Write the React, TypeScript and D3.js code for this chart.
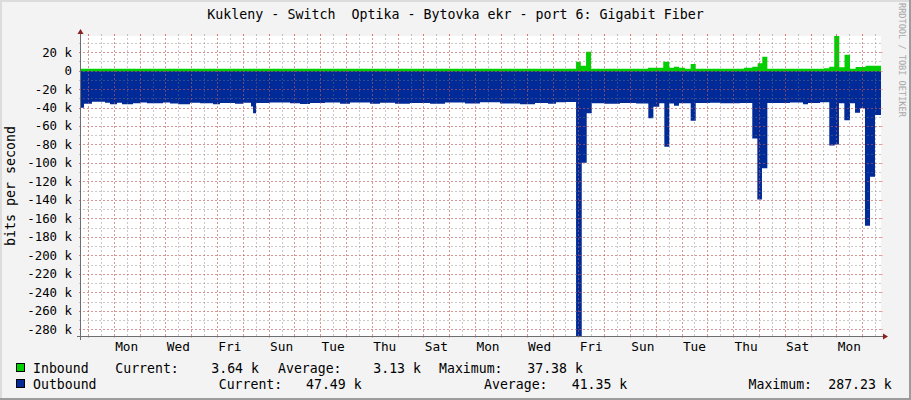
import React from "react";
import * as d3 from "d3";

const TITLE = "Kukleny - Switch  Optika - Bytovka ekr - port 6: Gigabit Fiber";
const Y_TITLE = "bits per second";
const WATERMARK = "RRDTOOL / TOBI OETIKER";

// 31-day period, starting 6.51 h before a Sunday midnight
const PERIOD_START = Date.UTC(2018, 3, 1, 0, 0, 0) - 23436 * 1000;
const PERIOD_HOURS = 744;

// Outbound (bits/s, thousands) step values: start hour -> value
const outHours = [
  0, 2.8, 10.2, 22.3, 27.0, 33.5, 38.1, 48.4, 54.9, 61.4, 76.3, 82.8, 90.2, 101.4, 110.7, 122.8,
  129.3, 143.2, 150.7, 158.1, 160.0, 162.8, 175.8, 194.4, 203.7, 213.0, 226.9, 240.9, 250.2,
  268.8, 278.1, 292.0, 306.0, 324.6, 338.5, 357.1, 371.1, 389.7, 408.3, 422.2, 434.3, 441.8,
  451.1, 460.4, 465.7, 470.3, 475.0, 486.4, 501.3, 516.2, 527.6, 532.3, 537.8, 542.5, 547.1,
  551.5, 556.1, 567.0, 571.7, 585.0, 594.3, 612.9, 624.3, 629.0, 633.3, 638.3, 659.4, 671.5,
  676.1, 687.3, 695.9, 700.9, 704.9, 709.9, 715.2, 719.8, 724.5, 729.1, 733.8, 738.4,
];
const outK = [
  40.2, 35.8, 33.7, 34.8, 36.6, 34.8, 36.6, 35.4, 34.5, 35.4, 34.6, 35.6, 36.6, 34.8, 35.4, 36.6,
  35.0, 35.8, 34.8, 39.0, 46.3, 35.2, 34.6, 35.4, 36.2, 35.0, 34.6, 35.8, 34.6,
  35.8, 34.8, 36.0, 35.0, 35.8, 34.6, 35.6, 34.4, 35.6, 36.4, 35.0, 35.8, 34.4,
  34.0, 287.23, 99.7, 46.3, 35.4, 36.0, 35.0, 35.6, 51.7, 39.1, 35.5, 82.4, 35.6,
  38.0, 35.5, 54.2, 35.2, 34.8, 35.5, 35.2, 73.4, 139.4, 105.8, 35.0, 34.6, 36.5,
  35.0, 34.4, 81.0, 79.9, 35.5, 53.9, 35.5, 45.6, 40.9, 167.9, 114.8, 48.1,
];

// Inbound (bits/s, thousands) step values
const inHours = [
  0, 460.4, 464.8, 469.7, 474.3, 527.3, 541.5, 547.1, 551.5, 556.1, 561.7, 567.0, 571.7,
  616.6, 624.3, 629.3, 633.6, 638.3, 691.0, 695.9, 700.5, 705.2, 710.1, 715.2, 720.4, 729.7,
];
const inK = [
  2.0, 9.6, 5.3, 20.4, 2.0, 3.1, 9.6, 3.1, 4.2, 3.1, 2.0, 7.1, 2.0,
  3.0, 4.2, 7.8, 15.0, 2.0, 2.6, 4.2, 37.38, 3.5, 17.0, 2.0, 3.8, 5.2,
];

const Y_MIN = -287230;
const Y_MAX = 37380;
const Y_MINOR_STEP = 10000;
const Y_MAJOR_STEP = 20000;

const SERIES_NAMES = ["Inbound", "Outbound"];
const SERIES_COLORS = ["#00CF00", "#002A97"];
const STAT_LABELS = ["Current:", "Average:", "Maximum:"];
const inboundStats = ["3.64 k", "3.13 k", "37.38 k"];
const outboundStats = ["47.49 k", "41.35 k", "287.23 k"];

const W = 911;
const H = 400;
const X0 = 81;
const X1 = 881;
const Y_TOP = 36;
const Y_BOT = 336;
const FONT = "'DejaVu Sans Mono', monospace";
const GRID = "rgba(120,120,120,0.40)";
const MGRID = "rgba(240,70,70,0.38)";
const DASH = "2,2";

export default function App() {
  const tStart = new Date(PERIOD_START);
  const tEnd = new Date(PERIOD_START + PERIOD_HOURS * 3600e3);
  const xs = d3.scaleUtc().domain([tStart, tEnd]).range([X0, X1]);
  const ys = d3.scaleLinear().domain([Y_MIN, Y_MAX]).range([Y_BOT, Y_TOP]);

  const toPts = (hours: number[], vals: number[]) => {
    const pts = hours.map((h, i) => ({ t: new Date(PERIOD_START + h * 3600e3), v: vals[i] * 1000 }));
    pts.push({ t: tEnd, v: vals[vals.length - 1] * 1000 });
    return pts;
  };
  const outPts = toPts(outHours, outK);
  const inPts = toPts(inHours, inK);

  const outArea = d3
    .area<{ t: Date; v: number }>()
    .x((d) => xs(d.t))
    .y0(ys(0))
    .y1((d) => ys(-d.v))
    .curve(d3.curveStepAfter);
  const inArea = d3
    .area<{ t: Date; v: number }>()
    .x((d) => xs(d.t))
    .y0(ys(0) + 0.8)
    .y1((d) => ys(d.v))
    .curve(d3.curveStepAfter);

  const minorY = d3.range(Math.ceil(Y_MIN / Y_MINOR_STEP) * Y_MINOR_STEP, Y_MAX, Y_MINOR_STEP);
  const majorY = d3.range(Math.ceil(Y_MIN / Y_MAJOR_STEP) * Y_MAJOR_STEP, Y_MAX, Y_MAJOR_STEP);
  const minorX = d3.utcHour.every(12)!.range(tStart, tEnd);
  const majorX = d3.utcDay.range(tStart, tEnd);
  const firstMonday = d3.utcMonday.ceil(tStart);
  const labelDays = majorX.filter(
    (d) => d >= firstMonday && d3.utcDay.count(firstMonday, d) % 2 === 0
  );
  const fmtDay = d3.utcFormat("%a");
  const fmtY = (v: number) => (v === 0 ? "0" : `${v / 1000} k`);

  const px = (v: number) => Math.round(v) + 0.5;

  const statX = [
    [115.3, 211.3, 278, 373.3, 439, 527.3],
    [218.7, 306, 484, 571.7, 748.5, 828.3],
  ];
  const statsRows = [inboundStats, outboundStats];
  const rowY = [373, 389];

  return (
    <svg
      width={W}
      height={H}
      style={{ position: "absolute", left: 0, top: 0, display: "block" }}
      fontFamily={FONT}
    >
      <defs>
        <clipPath id="plot">
          <rect x={X0} y={Y_TOP} width={X1 - X0} height={Y_BOT - Y_TOP} />
        </clipPath>
      </defs>
      <rect x={0} y={0} width={W} height={H} fill="#F3F3F3" />
      <rect x={0} y={0} width={W} height={2} fill="#DCDCDC" />
      <rect x={0} y={0} width={2} height={H} fill="#DCDCDC" />
      <rect x={W - 2} y={0} width={2} height={H} fill="#9C9C9C" />
      <rect x={0} y={H - 2} width={W} height={2} fill="#9C9C9C" />

      <text x={455.5} y={19} fontSize={13.3} textAnchor="middle" fill="#000" style={{ whiteSpace: "pre" }} xmlSpace="preserve">
        {TITLE}
      </text>

      <rect x={X0} y={Y_TOP} width={X1 - X0} height={Y_BOT - Y_TOP} fill="#FFFFFF" />

      <g clipPath="url(#plot)">
        <path d={outArea(outPts) ?? ""} fill={SERIES_COLORS[1]} />
        <path d={inArea(inPts) ?? ""} fill={SERIES_COLORS[0]} />
      </g>

      {/* minor grid */}
      <g stroke={GRID} strokeWidth={1} shapeRendering="crispEdges">
        {minorY.map((v) => (
          <line key={"my" + v} x1={X0 - 2} x2={X1 + 2} y1={px(ys(v))} y2={px(ys(v))} strokeDasharray={DASH} />
        ))}
        {minorX.map((t) => (
          <line key={"mx" + +t} x1={px(xs(t))} x2={px(xs(t))} y1={Y_TOP - 2} y2={Y_BOT + 2} strokeDasharray={DASH} />
        ))}
      </g>
      {/* major grid */}
      <g stroke={MGRID} strokeWidth={1} shapeRendering="crispEdges">
        {majorY.map((v) => (
          <g key={"My" + v}>
            <line x1={X0 - 2} x2={X1 + 2} y1={px(ys(v))} y2={px(ys(v))} strokeDasharray={DASH} />
            <line x1={X0 - 2} x2={X0} y1={px(ys(v))} y2={px(ys(v))} />
            <line x1={X1} x2={X1 + 2} y1={px(ys(v))} y2={px(ys(v))} />
          </g>
        ))}
        {majorX.map((t) => (
          <g key={"Mx" + +t}>
            <line x1={px(xs(t))} x2={px(xs(t))} y1={Y_TOP - 2} y2={Y_BOT + 2} strokeDasharray={DASH} />
            <line x1={px(xs(t))} x2={px(xs(t))} y1={Y_TOP - 2} y2={Y_TOP} />
            <line x1={px(xs(t))} x2={px(xs(t))} y1={Y_BOT} y2={Y_BOT + 2} />
          </g>
        ))}
      </g>

      {/* y labels */}
      <g fontSize={12.4} fill="#000" textAnchor="end">
        {majorY.map((v) => (
          <text key={"yl" + v} x={72} y={ys(v) + 4.5}>
            {fmtY(v)}
          </text>
        ))}
      </g>
      {/* x labels */}
      <g fontSize={12.8} fill="#000" textAnchor="middle">
        {labelDays.map((d) => (
          <text key={"xl" + +d} x={xs(new Date(+d + 12 * 3600e3))} y={351}>
            {fmtDay(d)}
          </text>
        ))}
      </g>

      {/* axes */}
      <g stroke="#6E6E6E" strokeWidth={1} shapeRendering="crispEdges">
        <line x1={X0 - 4} x2={X1 + 4} y1={Y_BOT + 0.5} y2={Y_BOT + 0.5} />
        <line x1={X0 - 0.5} x2={X0 - 0.5} y1={Y_BOT + 4} y2={Y_TOP - 4} />
      </g>
      <polygon
        points={`${X0 - 3.5},${Y_TOP - 2} ${X0 + 2.5},${Y_TOP - 2} ${X0 - 0.5},${Y_TOP - 7}`}
        fill="#8A1F1F"
      />
      <polygon
        points={`${X1 + 2},${Y_BOT - 2.5} ${X1 + 2},${Y_BOT + 3.5} ${X1 + 7},${Y_BOT + 0.5}`}
        fill="#8A1F1F"
      />

      {/* y title */}
      <text
        transform={`translate(14.5, ${(Y_TOP + Y_BOT) / 2}) rotate(-90)`}
        fontSize={13.3}
        textAnchor="middle"
        fill="#000"
      >
        {Y_TITLE}
      </text>

      {/* watermark */}
      <text transform="translate(899, 3) rotate(90)" fontSize={8.6} fill="#A8A8A8">
        {WATERMARK}
      </text>

      {/* legend */}
      {SERIES_NAMES.map((name, r) => (
        <g key={name} fontSize={13.2} fill="#000">
          <rect x={16.5} y={rowY[r] - 9.5} width={8} height={8} fill={SERIES_COLORS[r]} stroke="#000" strokeWidth={1} />
          <text x={33} y={rowY[r]}>
            {name}
          </text>
          {STAT_LABELS.map((lab, i) => (
            <g key={lab}>
              <text x={statX[r][i * 2]} y={rowY[r]}>
                {lab}
              </text>
              <text x={statX[r][i * 2 + 1]} y={rowY[r]}>
                {statsRows[r][i]}
              </text>
            </g>
          ))}
        </g>
      ))}
    </svg>
  );
}
